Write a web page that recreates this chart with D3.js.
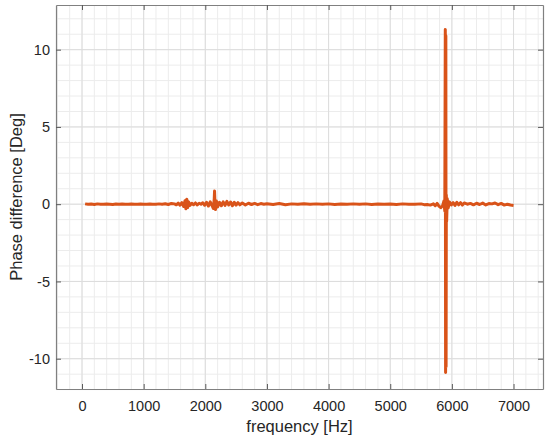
<!DOCTYPE html>
<html>
<head>
<meta charset="utf-8">
<script src="https://cdn.jsdelivr.net/npm/d3@7"></script>
<style>
  body { margin: 0; background: #fff; }
  text { font-family: "Liberation Sans", Arial, sans-serif; fill: #262626; }
</style>
</head>
<body>
<svg id="chart" width="550" height="440"></svg>
<script>
// chart variables
var width = 550;
var height = 440;
var margin = {top: 5, right: 7, bottom: 51, left: 56};
var w = width - margin.left - margin.right;
var h = height - margin.top - margin.bottom;

// data: frequency [Hz] and phase difference [Deg]
var freq = [50, 100, 150, 200, 250, 300, 350, 400, 450, 500, 550, 600, 650, 700, 750, 800,
  850, 900, 950, 1000, 1050, 1100, 1150, 1200, 1250, 1300, 1350, 1400, 1450, 1500, 1530,
  1560, 1590, 1620, 1650, 1670, 1685, 1700, 1715, 1730, 1750, 1780, 1810, 1840, 1870,
  1900, 1930, 1960, 1990, 2020, 2050, 2080, 2110, 2130, 2145, 2150, 2155, 2165, 2180,
  2200, 2230, 2260, 2290, 2320, 2350, 2380, 2410, 2440, 2470, 2500, 2530, 2560, 2600,
  2650, 2700, 2750, 2800, 2850, 2900, 2950, 3000, 3100, 3200, 3300, 3400, 3500, 3600,
  3700, 3800, 3900, 4000, 4100, 4200, 4300, 4400, 4500, 4600, 4700, 4800, 4900, 5000,
  5100, 5200, 5300, 5400, 5500, 5550, 5600, 5650, 5700, 5730, 5760, 5790, 5820, 5850,
  5870, 5885, 5893, 5898, 5902, 5906, 5910, 5915, 5925, 5940, 5960, 5990, 6020, 6050,
  6080, 6110, 6140, 6170, 6200, 6250, 6300, 6350, 6400, 6450, 6500, 6550, 6600, 6650,
  6700, 6750, 6800, 6850, 6900, 6950, 7000];
var phase = [0.02, -0.01, 0.01, -0.02, 0.02, 0.0, -0.01, 0.01, 0.0, -0.02, 0.01, 0.0, 0.01,
  -0.01, 0.0, 0.01, -0.01, 0.0, 0.01, -0.01, 0.0, 0.01, 0.0, -0.01, 0.02, 0.0, 0.03, -0.02,
  0.05, 0.02, -0.04, 0.07, -0.06, 0.1, -0.15, 0.22, -0.3, 0.32, -0.22, 0.15, -0.08, 0.06,
  -0.04, 0.08, -0.05, 0.06, 0.0, 0.09, -0.07, 0.12, -0.12, 0.15, -0.1, -0.28, 0.35, 0.85,
  0.3, -0.35, 0.2, -0.18, 0.12, -0.1, 0.15, -0.08, 0.18, -0.05, 0.14, -0.1, 0.12, -0.06,
  0.1, -0.04, 0.08, -0.05, 0.06, -0.02, 0.05, -0.03, 0.04, 0.0, 0.03, -0.02, 0.04, -0.03,
  0.02, 0.0, 0.03, -0.01, 0.02, 0.0, 0.02, -0.02, 0.01, 0.0, 0.02, -0.01, 0.02, -0.02,
  0.01, 0.0, 0.01, -0.02, 0.02, 0.0, -0.01, 0.02, -0.03, -0.02, -0.06, 0.02, -0.1, 0.05,
  -0.12, -0.22, -0.1, 0.2, -0.45, 11.3, -10.9, 10.9, -10.5, 0.6, -1.1, 0.35, -0.25, 0.15,
  -0.05, 0.1, -0.08, 0.12, -0.04, 0.1, -0.06, 0.08, 0.0, 0.05, -0.04, 0.06, -0.02, 0.07,
  -0.05, 0.04, 0.02, 0.08, -0.03, 0.05, -0.06, 0.0, -0.05, -0.08, -0.1, -0.12];

// tick values
var xTicks = [0, 1000, 2000, 3000, 4000, 5000, 6000, 7000];
var yTicks = [-10, -5, 0, 5, 10];
var xMinor = d3.range(-400, 7500, 200);
var yMinor = d3.range(-12, 13, 1);

var data = freq.map(function(f, i) { return {f: f, p: phase[i]}; });

var svg = d3.select("#chart");
var chart = svg.append("g")
    .attr("transform", "translate(" + margin.left + "," + margin.top + ")");

var x = d3.scaleLinear()
    .domain([-422, 7478])
    .range([0, w]);

var y = d3.scaleLinear()
    .domain([-11.96, 12.89])
    .range([h, 0]);

// minor grid
chart.append("g").selectAll("line")
    .data(xMinor)
    .enter().append("line")
    .attr("x1", function(d) { return x(d); })
    .attr("x2", function(d) { return x(d); })
    .attr("y1", 0).attr("y2", h)
    .style("stroke", "#ececec").style("stroke-width", 1);

chart.append("g").selectAll("line")
    .data(yMinor)
    .enter().append("line")
    .attr("y1", function(d) { return y(d); })
    .attr("y2", function(d) { return y(d); })
    .attr("x1", 0).attr("x2", w)
    .style("stroke", "#ececec").style("stroke-width", 1);

// major grid
chart.append("g").selectAll("line")
    .data(xTicks)
    .enter().append("line")
    .attr("x1", function(d) { return x(d); })
    .attr("x2", function(d) { return x(d); })
    .attr("y1", 0).attr("y2", h)
    .style("stroke", "#dcdcdc").style("stroke-width", 1);

chart.append("g").selectAll("line")
    .data(yTicks)
    .enter().append("line")
    .attr("y1", function(d) { return y(d); })
    .attr("y2", function(d) { return y(d); })
    .attr("x1", 0).attr("x2", w)
    .style("stroke", "#dcdcdc").style("stroke-width", 1);

// the trace
var line = d3.line()
    .x(function(d) { return x(d.f); })
    .y(function(d) { return y(d.p); });

chart.append("path")
    .datum(data)
    .attr("d", line)
    .style("fill", "none")
    .style("stroke", "#D95319")
    .style("stroke-width", 3)
    .style("stroke-linejoin", "round");

// plain hyphen minus like the original
var fmt = function(d) { return String(d); };

// axes (box with ticks on all four sides)
var xAxis = d3.axisBottom(x).tickValues(xTicks).tickSizeInner(-5).tickSizeOuter(0).tickPadding(12).tickFormat(fmt);
var yAxis = d3.axisLeft(y).tickValues(yTicks).tickSizeInner(-5).tickSizeOuter(0).tickPadding(6).tickFormat(fmt);

var gx = chart.append("g")
    .attr("transform", "translate(0," + h + ")")
    .call(xAxis);
var gy = chart.append("g").call(yAxis);
var gxt = chart.append("g").call(d3.axisTop(x).tickValues(xTicks).tickSizeInner(-5).tickSizeOuter(0).tickFormat(""));
var gyr = chart.append("g")
    .attr("transform", "translate(" + w + ",0)")
    .call(d3.axisRight(y).tickValues(yTicks).tickSizeInner(-5).tickSizeOuter(0).tickFormat(""));

[gx, gy, gxt, gyr].forEach(function(g) {
  g.selectAll(".domain").style("stroke", "#808080").style("stroke-width", 1.2);
  g.selectAll(".tick line").style("stroke", "#5a5a5a");
  g.selectAll(".tick text").style("font-size", "14.5px").style("fill", "#262626");
});

// axis titles
svg.append("text")
    .attr("x", margin.left + w / 2)
    .attr("y", 432)
    .style("text-anchor", "middle")
    .style("font-size", "16.5px")
    .text("frequency [Hz]");

svg.append("text")
    .attr("transform", "translate(22," + (margin.top + h / 2) + ") rotate(-90)")
    .style("text-anchor", "middle")
    .style("font-size", "16.5px")
    .text("Phase difference [Deg]");
</script>
</body>
</html>
